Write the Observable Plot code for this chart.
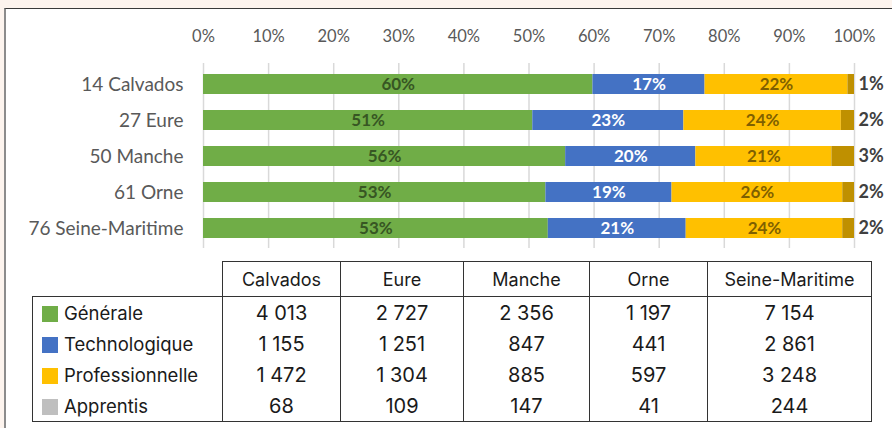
<!DOCTYPE html>
<html>
<head>
<meta charset="utf-8">
<script src="https://cdn.jsdelivr.net/npm/d3@7"></script>
<script src="https://cdn.jsdelivr.net/npm/@observablehq/plot@0.6"></script>
<style>
  html, body { margin: 0; padding: 0; }
  body { width: 892px; height: 428px; overflow: hidden; background: #fdf4ee; position: relative; font-family: Lato, sans-serif; }
  #frame { position: absolute; left: 4px; top: 8px; width: 900px; height: 430px; background: #fff;
           border-top: 1.5px solid #3a3a3a; border-left: 2px solid #8c8c8c; box-sizing: border-box; }
  #chart { position: absolute; left: 0; top: 0; }
  #tbl { position: absolute; left: 32px; top: 261px; border-collapse: collapse; font-family: Inter, sans-serif; color: #1a1a1a; table-layout: fixed; }
  #tbl td, #tbl th { border: 1.5px solid #333; padding: 0; text-align: center; font-weight: normal; }
  #tbl td { border-top: none; border-bottom: none; }
  #tbl tr:last-child td { border-bottom: 1.5px solid #333; }
  #tbl th { height: 34px; font-size: 18px; }
  #tbl td { height: 31px; font-size: 20px; }
  #tbl th.blank { border: none; border-bottom: 1.5px solid #333; }
  #tbl td.leg { text-align: left; padding-left: 9px; font-size: 18.5px; white-space: nowrap; }
  .sw { display: inline-block; width: 16px; height: 16px; vertical-align: -2px; margin-right: 6px; }
</style>
</head>
<body>
<div id="frame"></div>
<div id="chart"></div>
<table id="tbl"></table>
<script>
// ---- data ----
const depts = ["14 Calvados", "27 Eure", "50 Manche", "61 Orne", "76 Seine-Maritime"];
const tableHeads = ["Calvados", "Eure", "Manche", "Orne", "Seine-Maritime"];
const types = ["Générale", "Technologique", "Professionnelle", "Apprentis"];
const generale = [4013, 2727, 2356, 1197, 7154];
const technologique = [1155, 1251, 847, 441, 2861];
const professionnelle = [1472, 1304, 885, 597, 3248];
const apprentis = [68, 109, 147, 41, 244];
const xTicks = [0, 0.1, 0.2, 0.3, 0.4, 0.5, 0.6, 0.7, 0.8, 0.9, 1];

const series = [generale, technologique, professionnelle, apprentis];
const barColors = ["#70ad47", "#4472c4", "#ffc000", "#bf9000"];
const swatchColors = ["#70ad47", "#4472c4", "#ffc000", "#bfbfbf"];
const labelColors = ["#375623", "#ffffff", "#7f6000", "#404040"];

const totals = depts.map((d, i) => d3.sum(series, s => s[i]));
const rows = depts.flatMap((d, i) => types.map((t, j) => ({
  dept: d, type: t, value: series[j][i], share: series[j][i] / totals[i]
})));
const pct = d => Math.round(d.share * 100) + "%";

const stackFor = t => Plot.stackX({
  x: "value", y: "dept", z: "type", offset: "normalize", order: null,
  text: d => d.type === t ? pct(d) : null
});

const labelMarks = types.slice(0, 3).map((t, j) =>
  Plot.text(rows, {...stackFor(t), fill: labelColors[j], fontWeight: "bold", fontSize: 17})
);
const sA = stackFor("Apprentis");
labelMarks.push(Plot.text(rows, {...sA, x: sA.x2, textAnchor: "start", dx: 4,
  fill: labelColors[3], fontWeight: "bold", fontSize: 18}));

const chart = Plot.plot({
  width: 892, height: 250,
  marginLeft: 203, marginRight: 38, marginTop: 63, marginBottom: 2,
  style: {background: "transparent", fontFamily: "Lato, sans-serif", overflow: "visible"},
  x: {domain: [0, 1]},
  y: {domain: depts, paddingInner: 0.445, paddingOuter: 0.226},
  color: {domain: types, range: barColors},
  marks: [
    Plot.gridX(xTicks, {stroke: "#d9d9d9", strokeOpacity: 1, strokeWidth: 1.5}),
    Plot.axisX(xTicks, {anchor: "top", tickSize: 0, tickPadding: 22, tickFormat: d3.format(".0%"),
      fontSize: 16.5, fill: "#595959", label: null}),
    Plot.axisY({tickSize: 0, tickPadding: 20, fontSize: 19, fill: "#595959", label: null}),
    Plot.barX(rows, Plot.stackX({x: "value", y: "dept", fill: "type", offset: "normalize", order: null})),
    ...labelMarks
  ]
});
document.getElementById("chart").appendChild(chart);

// ---- table ----
const fmtNum = v => d3.format(",")(v).replace(/,/g, " ");
const colWidths = [190, 118, 123, 126, 118, 164];
const tbl = document.getElementById("tbl");
const cg = document.createElement("colgroup");
colWidths.forEach(w => { const c = document.createElement("col"); c.style.width = w + "px"; cg.appendChild(c); });
tbl.appendChild(cg);
const thead = document.createElement("tr");
thead.innerHTML = `<th class="blank"></th>` + tableHeads.map(h => `<th>${h}</th>`).join("");
tbl.appendChild(thead);
types.forEach((t, j) => {
  const tr = document.createElement("tr");
  tr.innerHTML = `<td class="leg"><span class="sw" style="background:${swatchColors[j]}"></span>${t}</td>` +
    series[j].map(v => `<td>${fmtNum(v)}</td>`).join("");
  tbl.appendChild(tr);
});
</script>
</body>
</html>
